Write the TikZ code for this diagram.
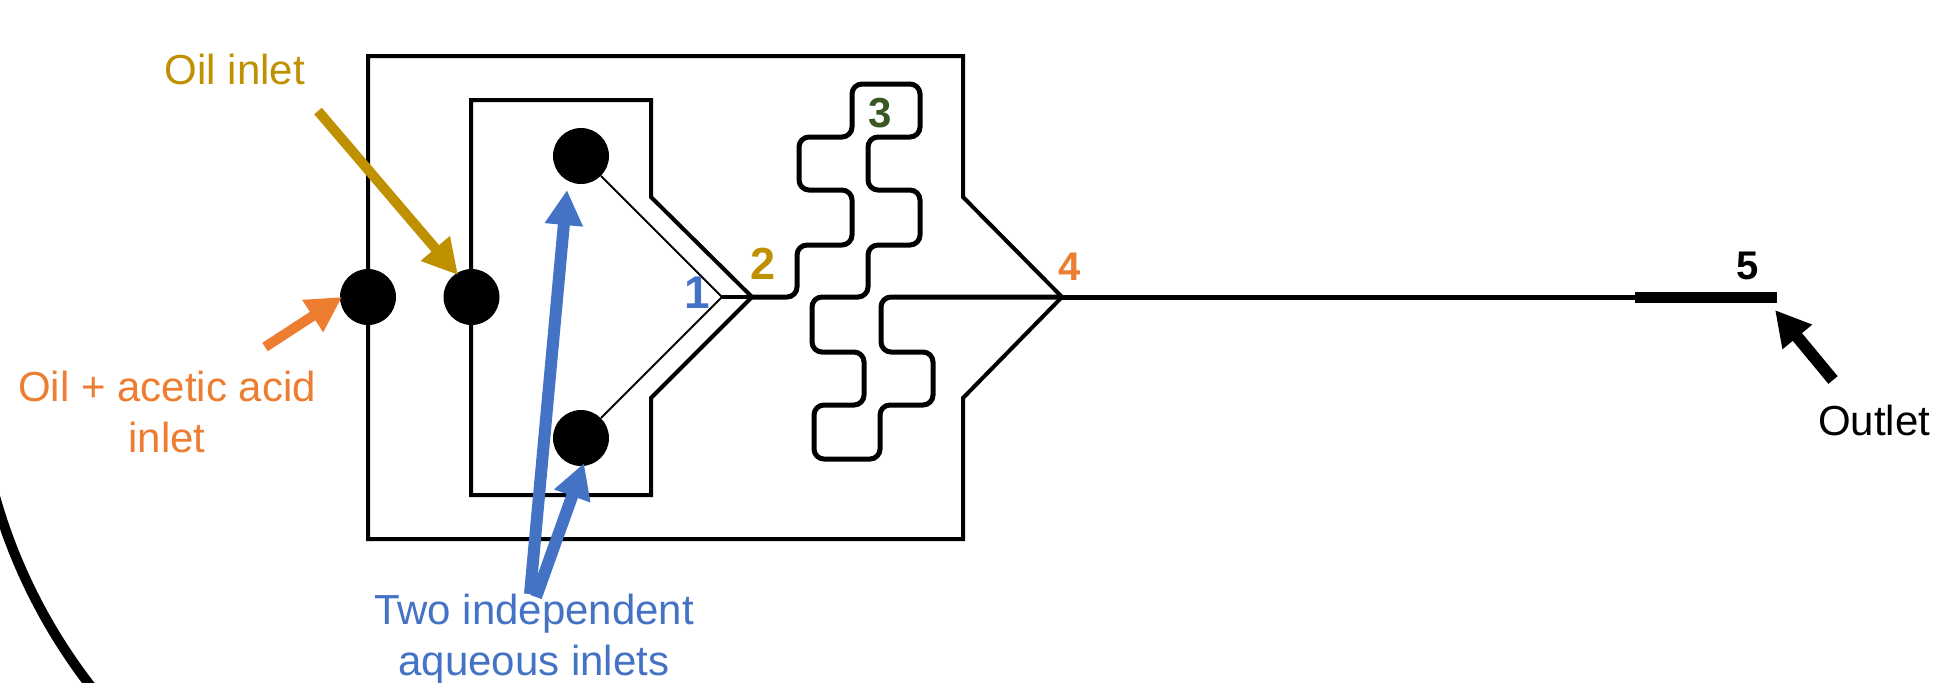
\documentclass[tikz,border=0pt]{standalone}
\usepackage{fontspec}
\setmainfont{Liberation Sans}
\usetikzlibrary{arrows.meta}
\definecolor{cblue}{HTML}{4472C4}
\definecolor{corange}{HTML}{ED7D31}
\definecolor{cgold}{HTML}{BF9000}
\definecolor{cgreen}{HTML}{385723}
\begin{document}
\begin{tikzpicture}[x=0.5pt,y=-0.5pt,
  wall/.style={line width=2pt, line join=miter},
  chan/.style={line width=2.5pt, rounded corners=5pt},
  thinchan/.style={line width=1pt},
  port/.style={circle, fill=black, inner sep=0pt, minimum size=28pt},
  fat/.style={line width=#1, -{Triangle[length=17.5pt,width=18pt]}},
  lbl/.style={font=\fontsize{21pt}{25.5pt}\selectfont, inner sep=0pt, anchor=base},
  num/.style={font=\bfseries\fontsize{#1}{#1}\selectfont, inner sep=0pt, anchor=base}
]
\clip (0,0) rectangle (1942,682);
\fill[white] (0,0) rectangle (1942,682);

% magnifier arc
\draw[line width=5pt] plot[domain=135:170, samples=60] ({531+557*cos(\x)},{345+557*sin(\x)});

% junction coordinates
\coordinate (j1) at (722,297);
\coordinate (j2) at (752,297);
\coordinate (j4) at (1062,297);
\coordinate (out1) at (1635,297);
\coordinate (out2) at (1777,297);

% walls
\draw[wall] (963,197) -- (963,56) -- (368,56) -- (368,539) -- (963,539) -- (963,398) -- (j4) -- cycle;
\draw[wall] (651,197) -- (651,100) -- (471,100) -- (471,495) -- (651,495) -- (651,398) -- (j2) -- cycle;

% ports
\node[port] (acid) at (368,297) {};
\node[port] (oil) at (471.5,297) {};
\node[port] (aq1) at (581,156) {};
\node[port] (aq2) at (581,438) {};

% aqueous channels
\draw[thinchan] (aq1) -- (j1);
\draw[thinchan] (aq2) -- (j1);
\draw[line width=1.6pt] (j1) -- (j2);

% serpentine
\draw[chan] (j2) -- (797,297) -- (797,245) -- (852,245) -- (852,190) -- (799,190) -- (799,137) -- (852,137) -- (852,84) -- (920,84) -- (920,137) -- (868,137) -- (868,190) -- (920,190) -- (920,245) -- (868,245) -- (868,297) -- (812,297) -- (812,352) -- (864,352) -- (864,405) -- (814,405) -- (814,459) -- (880,459) -- (880,405) -- (933,405) -- (933,352) -- (881,352) -- (881,297) -- (j4);

% outlet channel
\draw[line width=2.5pt] (j4) -- (out1);
\draw[line width=5.5pt] (out1) -- (out2);

% labels (base anchor = baseline of last line)
\node[lbl, text=cgold] (oillbl) at (235,84) {Oil inlet};
\node[lbl, text=corange, align=center] (acidlbl) at (167,452) {Oil + acetic acid\\inlet};
\node[lbl, text=cblue, align=center] (aqlbl) at (534,675) {Two independent\\aqueous inlets};
\node[lbl] (outlbl) at (1874,435) {Outlet};

\node[num=23pt, text=cblue] (n1) at (697.5,308) {1};
\node[num=22.5pt, text=cgold] (n2) at (763,279) {2};
\node[num=21pt, text=cgreen] (n3) at (880,127) {3};
\node[num=20pt, text=corange] (n4) at (1070,280) {4};
\node[num=20pt] (n5) at (1748,279.5) {5};

% arrows
\coordinate (oiltail) at (318,111);
\coordinate (oiltip) at (458,275);
\coordinate (acidtail) at (265,347);
\coordinate (acidtip) at (342,297);
\coordinate (aqtail1) at (530,594);
\coordinate (aqtip1) at (567,190);
\coordinate (aqtail2) at (536,597);
\coordinate (aqtip2) at (584,463);
\coordinate (outtail) at (1833,380);
\coordinate (outtip) at (1775,310);

\draw[fat=5pt, cgold] (oiltail) -- (oiltip);
\draw[fat=5pt, corange] (acidtail) -- (acidtip);
\draw[fat=6pt, cblue] (aqtail1) -- (aqtip1);
\draw[fat=6pt, cblue] (aqtail2) -- (aqtip2);
\draw[fat=6pt, black] (outtail) -- (outtip);
\end{tikzpicture}
\end{document}
